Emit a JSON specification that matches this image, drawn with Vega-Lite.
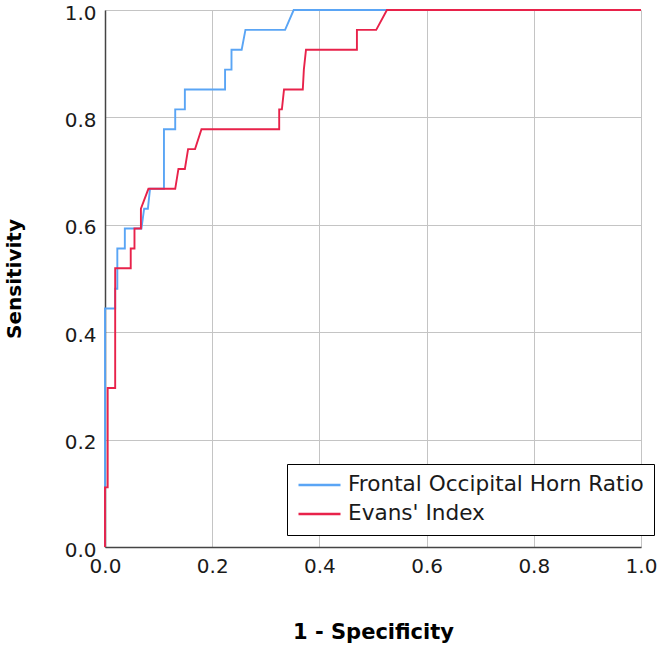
{
  "$schema": "https://vega.github.io/schema/vega-lite/v6.json",
  "width": 536,
  "height": 537,
  "autosize": {"type": "none"},
  "padding": {"left": 105, "top": 10, "right": 20, "bottom": 100},
  "background": "white",
  "config": {
    "view": {"stroke": null},
    "font": "DejaVu Sans",
    "axis": {
      "grid": true,
      "gridColor": "#c4c4c4",
      "gridWidth": 1,
      "domainColor": "#444444",
      "domainWidth": 1.5,
      "ticks": false,
      "labelFont": "DejaVu Sans",
      "labelFontSize": 20,
      "labelColor": "#1a1a1a",
      "titleFont": "DejaVu Sans",
      "titleFontSize": 20,
      "titleFontWeight": "bold",
      "titleColor": "#000000"
    }
  },
  "data": {
    "values": [
      {"curve": "Frontal Occipital Horn Ratio", "i": 1, "fpr": 0.0, "sens": 0.0},
      {"curve": "Frontal Occipital Horn Ratio", "i": 2, "fpr": 0.0, "sens": 0.444},
      {"curve": "Frontal Occipital Horn Ratio", "i": 3, "fpr": 0.019, "sens": 0.444},
      {"curve": "Frontal Occipital Horn Ratio", "i": 4, "fpr": 0.019, "sens": 0.481},
      {"curve": "Frontal Occipital Horn Ratio", "i": 5, "fpr": 0.023, "sens": 0.481},
      {"curve": "Frontal Occipital Horn Ratio", "i": 6, "fpr": 0.023, "sens": 0.556},
      {"curve": "Frontal Occipital Horn Ratio", "i": 7, "fpr": 0.037, "sens": 0.556},
      {"curve": "Frontal Occipital Horn Ratio", "i": 8, "fpr": 0.037, "sens": 0.593},
      {"curve": "Frontal Occipital Horn Ratio", "i": 9, "fpr": 0.068, "sens": 0.593},
      {"curve": "Frontal Occipital Horn Ratio", "i": 10, "fpr": 0.073, "sens": 0.630},
      {"curve": "Frontal Occipital Horn Ratio", "i": 11, "fpr": 0.080, "sens": 0.630},
      {"curve": "Frontal Occipital Horn Ratio", "i": 12, "fpr": 0.084, "sens": 0.667},
      {"curve": "Frontal Occipital Horn Ratio", "i": 13, "fpr": 0.110, "sens": 0.667},
      {"curve": "Frontal Occipital Horn Ratio", "i": 14, "fpr": 0.110, "sens": 0.778},
      {"curve": "Frontal Occipital Horn Ratio", "i": 15, "fpr": 0.131, "sens": 0.778},
      {"curve": "Frontal Occipital Horn Ratio", "i": 16, "fpr": 0.131, "sens": 0.815},
      {"curve": "Frontal Occipital Horn Ratio", "i": 17, "fpr": 0.149, "sens": 0.815},
      {"curve": "Frontal Occipital Horn Ratio", "i": 18, "fpr": 0.149, "sens": 0.852},
      {"curve": "Frontal Occipital Horn Ratio", "i": 19, "fpr": 0.224, "sens": 0.852},
      {"curve": "Frontal Occipital Horn Ratio", "i": 20, "fpr": 0.224, "sens": 0.889},
      {"curve": "Frontal Occipital Horn Ratio", "i": 21, "fpr": 0.236, "sens": 0.889},
      {"curve": "Frontal Occipital Horn Ratio", "i": 22, "fpr": 0.236, "sens": 0.926},
      {"curve": "Frontal Occipital Horn Ratio", "i": 23, "fpr": 0.255, "sens": 0.926},
      {"curve": "Frontal Occipital Horn Ratio", "i": 24, "fpr": 0.262, "sens": 0.963},
      {"curve": "Frontal Occipital Horn Ratio", "i": 25, "fpr": 0.336, "sens": 0.963},
      {"curve": "Frontal Occipital Horn Ratio", "i": 26, "fpr": 0.352, "sens": 1.0},
      {"curve": "Frontal Occipital Horn Ratio", "i": 27, "fpr": 1.0, "sens": 1.0},
      {"curve": "Evans' Index", "i": 1, "fpr": 0.0, "sens": 0.0},
      {"curve": "Evans' Index", "i": 2, "fpr": 0.0, "sens": 0.111},
      {"curve": "Evans' Index", "i": 3, "fpr": 0.005, "sens": 0.111},
      {"curve": "Evans' Index", "i": 4, "fpr": 0.005, "sens": 0.296},
      {"curve": "Evans' Index", "i": 5, "fpr": 0.019, "sens": 0.296},
      {"curve": "Evans' Index", "i": 6, "fpr": 0.019, "sens": 0.519},
      {"curve": "Evans' Index", "i": 7, "fpr": 0.048, "sens": 0.519},
      {"curve": "Evans' Index", "i": 8, "fpr": 0.048, "sens": 0.556},
      {"curve": "Evans' Index", "i": 9, "fpr": 0.055, "sens": 0.556},
      {"curve": "Evans' Index", "i": 10, "fpr": 0.055, "sens": 0.593},
      {"curve": "Evans' Index", "i": 11, "fpr": 0.067, "sens": 0.593},
      {"curve": "Evans' Index", "i": 12, "fpr": 0.067, "sens": 0.630},
      {"curve": "Evans' Index", "i": 13, "fpr": 0.081, "sens": 0.667},
      {"curve": "Evans' Index", "i": 14, "fpr": 0.131, "sens": 0.667},
      {"curve": "Evans' Index", "i": 15, "fpr": 0.137, "sens": 0.704},
      {"curve": "Evans' Index", "i": 16, "fpr": 0.149, "sens": 0.704},
      {"curve": "Evans' Index", "i": 17, "fpr": 0.155, "sens": 0.741},
      {"curve": "Evans' Index", "i": 18, "fpr": 0.168, "sens": 0.741},
      {"curve": "Evans' Index", "i": 19, "fpr": 0.180, "sens": 0.778},
      {"curve": "Evans' Index", "i": 20, "fpr": 0.325, "sens": 0.778},
      {"curve": "Evans' Index", "i": 21, "fpr": 0.325, "sens": 0.815},
      {"curve": "Evans' Index", "i": 22, "fpr": 0.330, "sens": 0.815},
      {"curve": "Evans' Index", "i": 23, "fpr": 0.334, "sens": 0.852},
      {"curve": "Evans' Index", "i": 24, "fpr": 0.369, "sens": 0.852},
      {"curve": "Evans' Index", "i": 25, "fpr": 0.371, "sens": 0.889},
      {"curve": "Evans' Index", "i": 26, "fpr": 0.375, "sens": 0.926},
      {"curve": "Evans' Index", "i": 27, "fpr": 0.470, "sens": 0.926},
      {"curve": "Evans' Index", "i": 28, "fpr": 0.470, "sens": 0.963},
      {"curve": "Evans' Index", "i": 29, "fpr": 0.506, "sens": 0.963},
      {"curve": "Evans' Index", "i": 30, "fpr": 0.526, "sens": 1.0},
      {"curve": "Evans' Index", "i": 31, "fpr": 1.0, "sens": 1.0}
    ]
  },
  "mark": {"type": "line", "strokeWidth": 1.9, "interpolate": "linear"},
  "encoding": {
    "x": {
      "field": "fpr",
      "type": "quantitative",
      "scale": {"domain": [0, 1], "nice": false, "zero": true},
      "axis": {
        "title": "1 - Specificity",
        "titleFontSize": 21,
        "values": [0, 0.2, 0.4, 0.6, 0.8, 1.0],
        "format": ".1f",
        "labelPadding": 9,
        "titlePadding": 45,
        "labelFlush": false
      }
    },
    "y": {
      "field": "sens",
      "type": "quantitative",
      "scale": {"domain": [0, 1], "nice": false},
      "axis": {
        "title": "Sensitivity",
        "values": [0, 0.2, 0.4, 0.6, 0.8, 1.0],
        "format": ".1f",
        "labelPadding": 9,
        "labelOffset": 3,
        "titlePadding": 40,
        "labelFlush": false
      }
    },
    "color": {
      "field": "curve",
      "type": "nominal",
      "sort": ["Frontal Occipital Horn Ratio", "Evans' Index"],
      "scale": {
        "domain": ["Frontal Occipital Horn Ratio", "Evans' Index"],
        "range": ["#5aa5f5", "#e8224a"]
      },
      "legend": {
        "title": null,
        "orient": "none",
        "legendX": 182,
        "legendY": 454,
        "direction": "vertical",
        "strokeColor": "#000000",
        "fillColor": "#ffffff",
        "padding": 10,
        "symbolType": "stroke",
        "symbolSize": 1764,
        "symbolStrokeWidth": 2.5,
        "labelFont": "DejaVu Sans",
        "labelFontSize": 21.6,
        "labelColor": "#1a1a1a",
        "labelOffset": 6,
        "labelLimit": 400,
        "clipHeight": 22,
        "rowPadding": 7
      }
    },
    "order": {"field": "i", "type": "quantitative"}
  }
}
